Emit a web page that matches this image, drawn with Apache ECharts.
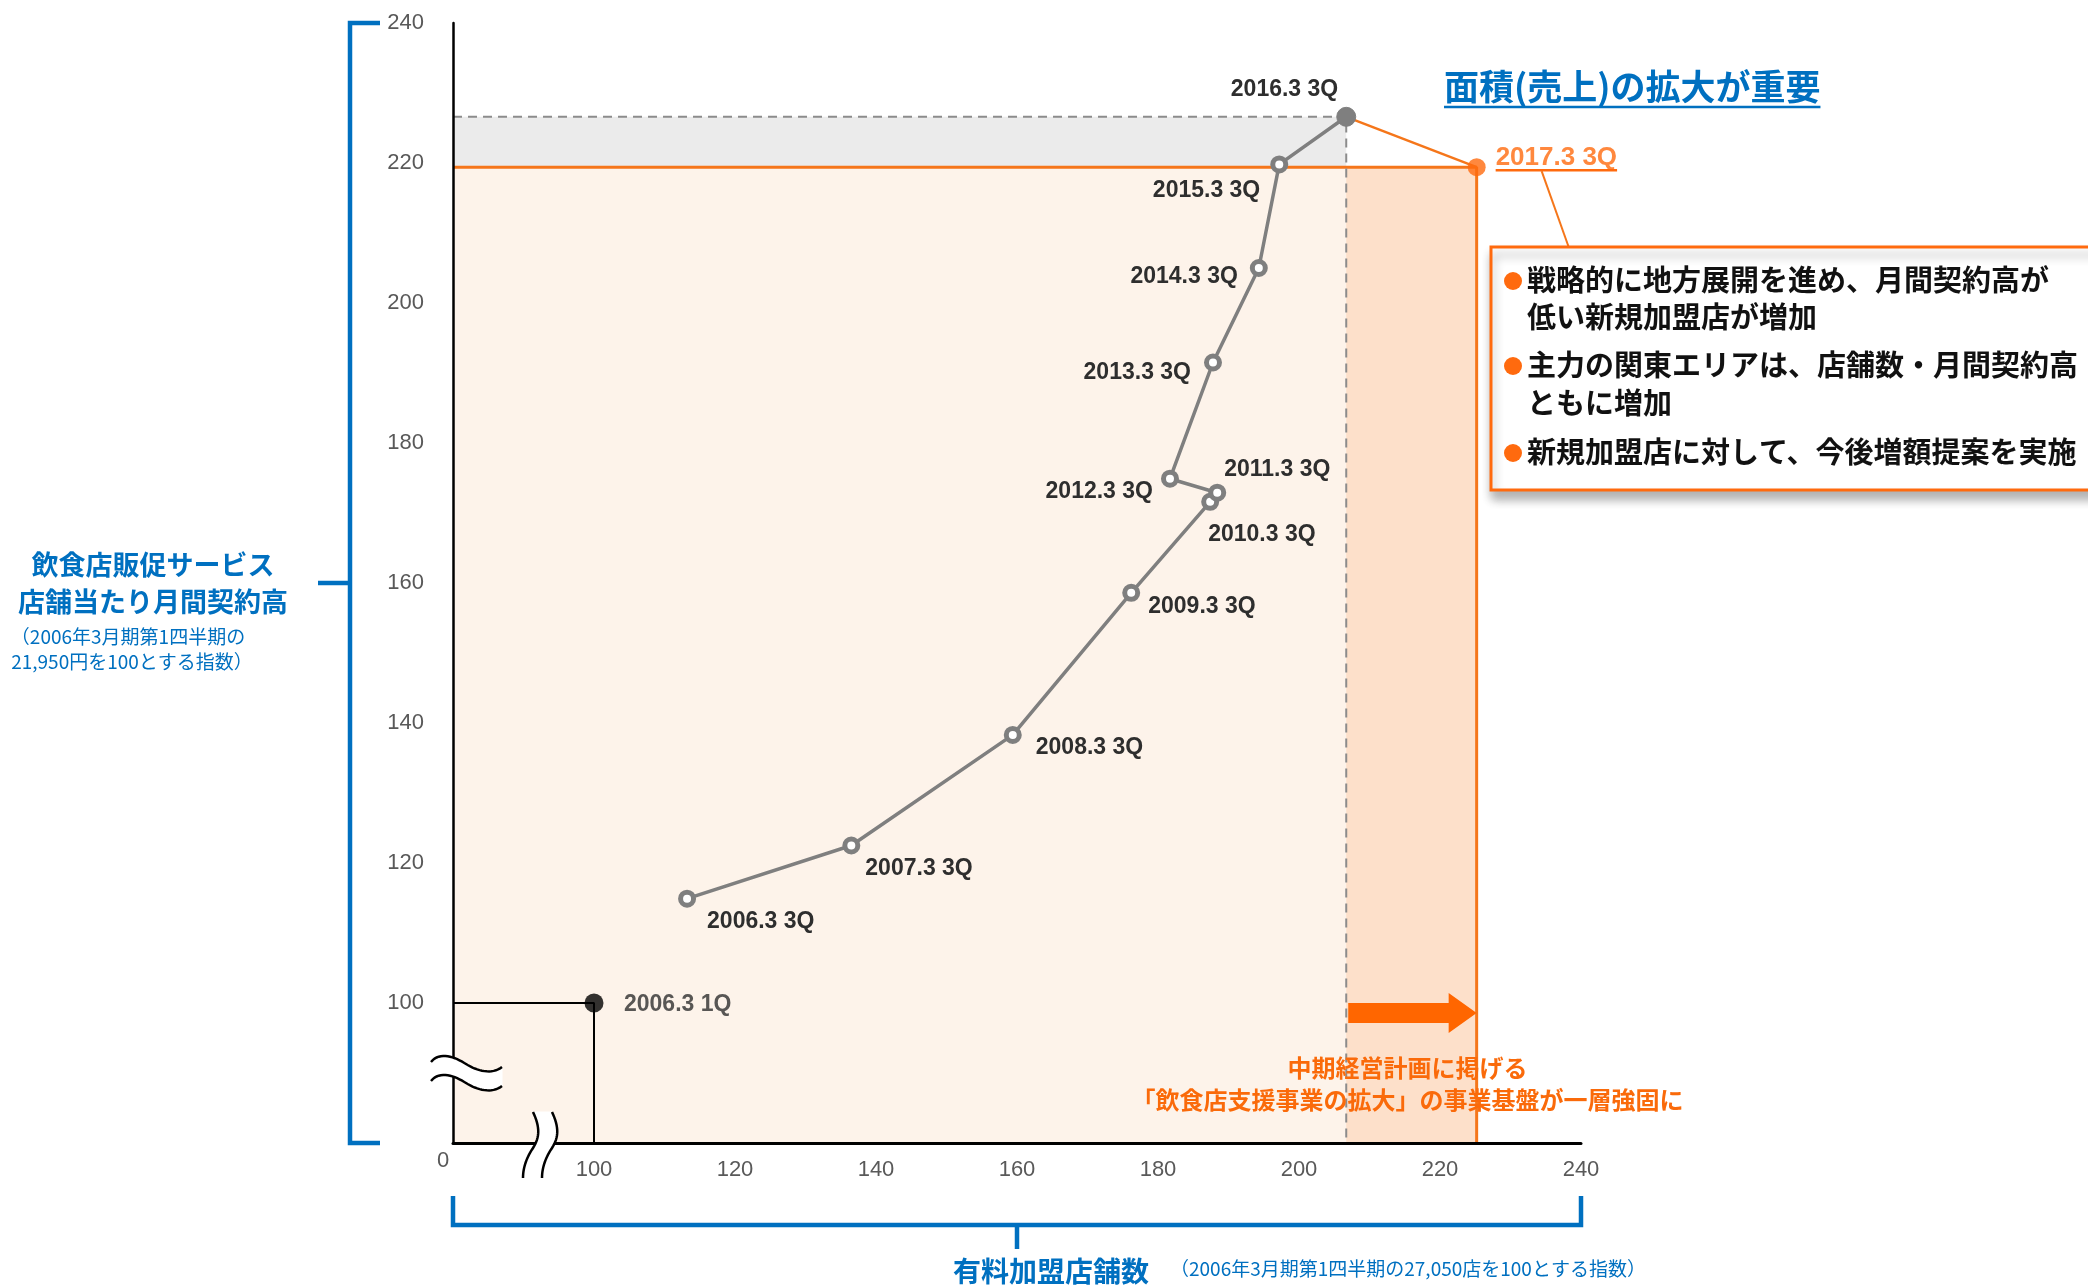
<!DOCTYPE html>
<html><head><meta charset="utf-8">
<script src="https://cdn.jsdelivr.net/npm/echarts@6/dist/echarts.min.js"></script>
<style>html,body{margin:0;padding:0;background:#fff}#c{width:2088px;height:1285px}</style>
</head><body><div id="c"></div>
<script>
// ---------------- data ----------------
const periods = ['2006.3 1Q','2006.3 3Q','2007.3 3Q','2008.3 3Q','2009.3 3Q','2010.3 3Q','2011.3 3Q','2012.3 3Q','2013.3 3Q','2014.3 3Q','2015.3 3Q','2016.3 3Q','2017.3 3Q'];
const storeIndex = [100, 113.2, 136.5, 159.4, 176.2, 187.4, 188.4, 181.7, 187.8, 194.3, 197.2, 206.7, 225.2];
const salesIndex = [100, 114.9, 122.5, 138.3, 158.6, 171.6, 172.9, 174.9, 191.5, 205.0, 219.8, 226.6, 219.4];
const xTickLabels = ['0','100','120','140','160','180','200','220','240'];
const yTickLabels = ['0','100','120','140','160','180','200','220','240'];
const AXIS_MIN = 80, AXIS_MAX = 240, AXIS_STEP = 20; // the 0–100 stretch is drawn as a broken axis

const yTitle = ['飲食店販促サービス','店舗当たり月間契約高'];
const yNote = ['（2006年3月期第1四半期の','21,950円を100とする指数）'];
const xTitle = '有料加盟店舗数';
const xNote = '（2006年3月期第1四半期の27,050店を100とする指数）';
const headline = '面積(売上)の拡大が重要';
const bullets = [['戦略的に地方展開を進め、月間契約高が','低い新規加盟店が増加'],['主力の関東エリアは、店舗数・月間契約高','ともに増加'],['新規加盟店に対して、今後増額提案を実施']];
const planNote = ['中期経営計画に掲げる','「飲食店支援事業の拡大」の事業基盤が一層強固に'];

// ---------------- styles ----------------
const LATIN = '"Liberation Sans", Arial, sans-serif';
const JP = '"Noto Sans CJK JP", sans-serif';
const BLUE = '#0070c0', ORANGE = '#ff6a0e', ORANGE_LINE = '#f5761a', GRAY = '#7f7f7f';
// [align, dx, dy] of each point label relative to the point centre (px)
const labelPlacement = [
  ['left', 30, 2], ['left', 20, 23], ['left', 14, 23], ['left', 23, 13], ['left', 17, 14],
  ['left', -2, 33], ['left', 7, -23], ['right', -17, 13], ['right', -22, 10], ['right', -21, 9],
  ['right', -19, 26], ['right', -8, -27], ['left', 19, -9]
];

const n = periods.length;
const x0 = storeIndex[0], y0 = salesIndex[0];
const x16 = storeIndex[n-2], y16 = salesIndex[n-2];
const x17 = storeIndex[n-1], y17 = salesIndex[n-1];

function lbl(i, extra) {
  const p = labelPlacement[i];
  return Object.assign({
    show: true, formatter: periods[i], position: ['50%','50%'], offset: [p[1], p[2]],
    align: p[0], verticalAlign: 'middle', fontFamily: LATIN, fontWeight: 'bold', fontSize: 23, color: '#2e2e2e'
  }, extra || {});
}

const histData = [];
for (let i = 1; i <= n - 2; i++) {
  const item = { value: [storeIndex[i], salesIndex[i]], label: lbl(i) };
  if (i === n - 2) { item.symbolSize = 19; item.itemStyle = { color: GRAY, borderColor: GRAY, borderWidth: 1 }; }
  histData.push(item);
}

const chart = echarts.init(document.getElementById('c'));
const axisCommon = {
  type: 'value', min: AXIS_MIN, max: AXIS_MAX, interval: AXIS_STEP, z: 5,
  axisTick: { show: false }, splitLine: { show: false }
};
chart.setOption({
  animation: false,
  backgroundColor: '#fff',
  grid: { left: 453, top: 23, width: 1128, height: 1120 },
  xAxis: Object.assign({}, axisCommon, {
    axisLine: { show: true, onZero: false, lineStyle: { color: '#000', width: 3 } },
    axisLabel: { margin: 16, color: '#595959', fontSize: 22, fontFamily: LATIN,
      formatter: v => { const k = Math.round((v - AXIS_MIN) / AXIS_STEP); return k === 0 ? '' : xTickLabels[k]; } }
  }),
  yAxis: Object.assign({}, axisCommon, {
    axisLine: { show: true, onZero: false, lineStyle: { color: '#000', width: 2.5 } },
    axisLabel: { margin: 29, color: '#595959', fontSize: 22, fontFamily: LATIN,
      formatter: v => { const k = Math.round((v - AXIS_MIN) / AXIS_STEP); return k === 0 ? '' : yTickLabels[k]; } }
  }),
  series: [
    { type: 'line', data: [[AXIS_MIN, AXIS_MIN]], symbol: 'none', lineStyle: { opacity: 0 }, silent: true, z: 1,
      markArea: { silent: true, data: [
        [{ coord: [AXIS_MIN, AXIS_MIN], itemStyle: { color: '#fdf3ea' } }, { coord: [x17, y17] }],
        [{ coord: [x16, AXIS_MIN], itemStyle: { color: '#fde0ca' } }, { coord: [x17, y17] }],
        [{ coord: [AXIS_MIN, y17], itemStyle: { color: '#ebebeb' } }, { coord: [x16, y16] }]
      ] } },
    { type: 'line', data: [[AXIS_MIN, y17], [x17, y17], [x17, AXIS_MIN]], symbol: 'none', silent: true, z: 2,
      lineStyle: { color: ORANGE_LINE, width: 3 } },
    { type: 'line', data: [[AXIS_MIN, y16], [x16, y16], [x16, AXIS_MIN]], symbol: 'none', silent: true, z: 2,
      lineStyle: { color: '#8c8c8c', width: 2, type: [9, 6] } },
    { type: 'line', data: [[AXIS_MIN, y0], [x0, y0], [x0, AXIS_MIN]], symbol: 'none', silent: true, z: 3,
      lineStyle: { color: '#000', width: 2 } },
    { type: 'line', data: [[x16, y16], [x17, y17]], symbol: 'none', silent: true, z: 3,
      lineStyle: { color: ORANGE_LINE, width: 2.5 } },
    { type: 'line', data: histData, symbol: 'circle', symbolSize: 13, silent: true, z: 4,
      itemStyle: { color: '#fff', borderColor: GRAY, borderWidth: 5 },
      lineStyle: { color: GRAY, width: 3.5 }, emphasis: { disabled: true } },
    { type: 'scatter', data: [{ value: [x0, y0], label: lbl(0) }], symbolSize: 19, silent: true, z: 5,
      itemStyle: { color: '#000' } },
    { type: 'scatter', data: [{ value: [x17, y17], label: lbl(n - 1, { color: ORANGE, fontSize: 26 }) }], symbolSize: 18, silent: true, z: 5,
      itemStyle: { color: ORANGE } }
  ]
});

// ---------------- annotations ----------------
const px = (x, y) => chart.convertToPixel({ gridIndex: 0 }, [x, y]);
const ctx = document.createElement('canvas').getContext('2d');
const measure = (t, f) => { ctx.font = f; return ctx.measureText(t).width; };
const origin = px(AXIS_MIN, AXIS_MIN), topP = px(AXIS_MIN, AXIS_MAX), rightP = px(AXIS_MAX, AXIS_MIN);
const p17 = px(x17, y17), a16 = px(x16, AXIS_MIN);
const g = [];
const Z = 100;
const line = (x1, y1, x2, y2, color, w) => g.push({ type: 'line', z: Z, silent: true, shape: { x1, y1, x2, y2 }, style: { stroke: color, lineWidth: w } });
const text = (t, x, y, o) => g.push({ type: 'text', z: Z + 1, silent: true, x, y, style: Object.assign({ text: t, verticalAlign: 'middle' }, o) });

// sample a chain of cubic bezier segments: [p0, c1, c2, p1, c3, c4, p2, ...]
function bez(pts, ox, oy) {
  const out = [];
  for (let s = 0; s + 3 < pts.length; s += 3) {
    const [a, b, c, d] = [pts[s], pts[s+1], pts[s+2], pts[s+3]];
    for (let k = (s === 0 ? 0 : 1); k <= 16; k++) {
      const t = k / 16, u = 1 - t;
      out.push([ox + u*u*u*a[0] + 3*u*u*t*b[0] + 3*u*t*t*c[0] + t*t*t*d[0],
                oy + u*u*u*a[1] + 3*u*u*t*b[1] + 3*u*t*t*c[1] + t*t*t*d[1]]);
    }
  }
  return out;
}

// origin label
text(xTickLabels[0], origin[0] - 10, origin[1] + 18, { fill: '#595959', font: '22px ' + LATIN, align: 'center' });

// blue brackets
const bx = origin[0] - 103;
g.push({ type: 'polyline', z: Z, silent: true, shape: { points: [[bx + 30, topP[1]], [bx, topP[1]], [bx, origin[1]], [bx + 30, origin[1]]] }, style: { stroke: BLUE, lineWidth: 4.5, fill: null } });
const midY = (topP[1] + origin[1]) / 2;
line(bx - 32, midY, bx, midY, BLUE, 4.5);
const by = origin[1] + 82;
g.push({ type: 'polyline', z: Z, silent: true, shape: { points: [[origin[0], origin[1] + 53], [origin[0], by], [rightP[0], by], [rightP[0], origin[1] + 53]] }, style: { stroke: BLUE, lineWidth: 4.5, fill: null } });
const midX = (origin[0] + rightP[0]) / 2;
line(midX, by, midX, by + 24, BLUE, 4.5);

// axis titles
text(yTitle[0], 153, midY - 18, { fill: BLUE, font: 'bold 27px ' + JP, align: 'center' });
text(yTitle[1], 153, midY + 19, { fill: BLUE, font: 'bold 27px ' + JP, align: 'center' });
text(yNote[0], 128, midY + 54, { fill: BLUE, font: '19px ' + JP, align: 'center' });
text(yNote[1], 132, midY + 79, { fill: BLUE, font: '19px ' + JP, align: 'center' });
text(xTitle, midX + 34, 1271, { fill: BLUE, font: 'bold 28px ' + JP, align: 'center' });
text(xNote, 1170, 1269, { fill: BLUE, font: '19px ' + JP, align: 'left' });

// axis breaks (wavy marks)
function breakMark(c1, c2, cx, cy) {
  const A = bez(c1, cx, cy), B = bez(c2, cx, cy);
  g.push({ type: 'polygon', z: Z, silent: true, shape: { points: A.concat(B.slice().reverse()) }, style: { fill: '#fff', stroke: '#fff', lineWidth: 1 } });
  g.push({ type: 'polyline', z: Z + 1, silent: true, shape: { points: A }, style: { stroke: '#000', lineWidth: 2.5, fill: null } });
  g.push({ type: 'polyline', z: Z + 1, silent: true, shape: { points: B }, style: { stroke: '#000', lineWidth: 2.5, fill: null } });
}
breakMark([[-35,-11],[-26,-22],[-11,-16],[0,-9],[11,-2],[26,2],[36,-6]],
          [[-35,8],[-26,-3],[-11,3],[0,10],[11,17],[26,21],[36,13]], origin[0] + 13, origin[1] - 70);
breakMark([[-5,-33],[2,-18],[2,-8],[-5,3],[-11,12],[-15,22],[-15,33]],
          [[14,-33],[21,-18],[21,-8],[14,3],[8,12],[4,22],[4,33]], origin[0] + 85, origin[1] + 2);

// underline of 2017.3 3Q label + pointer to callout
const l17 = labelPlacement[n - 1];
const uw = measure(periods[n - 1], 'bold 26px ' + LATIN);
const ux = p17[0] + l17[1], uy = p17[1] + 3;
line(ux, uy, ux + uw, uy, ORANGE, 2.5);
const boxX = 1491, boxY = 247;
line(ux + 46, uy + 1, ux + 73, boxY, ORANGE_LINE, 2);

// headline
const hf = 'bold 35px ' + JP;
const hx = 1444, hy = 87;
text(headline, hx, hy, { fill: BLUE, font: hf, align: 'left' });
line(hx, 107, hx + measure(headline, hf), 107, BLUE, 2.5);

// callout box
g.push({ type: 'rect', z: Z, silent: true, shape: { x: boxX, y: boxY, width: 700, height: 243 }, style: { fill: '#fff', stroke: ORANGE, lineWidth: 3, shadowBlur: 10, shadowOffsetX: 2, shadowOffsetY: 8, shadowColor: 'rgba(0,0,0,0.3)' } });
const bulletY = [[280, 317], [365, 403], [452]];
bullets.forEach((lines, i) => {
  g.push({ type: 'circle', z: Z + 1, silent: true, shape: { cx: 1513, cy: bulletY[i][0] + 1, r: 9 }, style: { fill: ORANGE } });
  lines.forEach((t, j) => text(t, 1527, bulletY[i][j], { fill: '#111', font: 'bold 29px ' + JP, align: 'left' }));
});

// plan arrow and note
const ay = origin[1] - 130;
const ax1 = a16[0] + 2, ax2 = p17[0];
g.push({ type: 'polygon', z: Z, silent: true, shape: { points: [[ax1, ay - 10], [ax2 - 28, ay - 10], [ax2 - 28, ay - 20], [ax2, ay], [ax2 - 28, ay + 20], [ax2 - 28, ay + 10], [ax1, ay + 10]] }, style: { fill: '#ff6600' } });
const nx = (a16[0] + p17[0]) / 2 - 4;
text(planNote[0], nx, origin[1] - 75, { fill: '#fa6a0a', font: 'bold 24px ' + JP, align: 'center' });
text(planNote[1], nx, origin[1] - 43, { fill: '#fa6a0a', font: 'bold 24px ' + JP, align: 'center' });

chart.setOption({ graphic: g });
</script></body></html>
